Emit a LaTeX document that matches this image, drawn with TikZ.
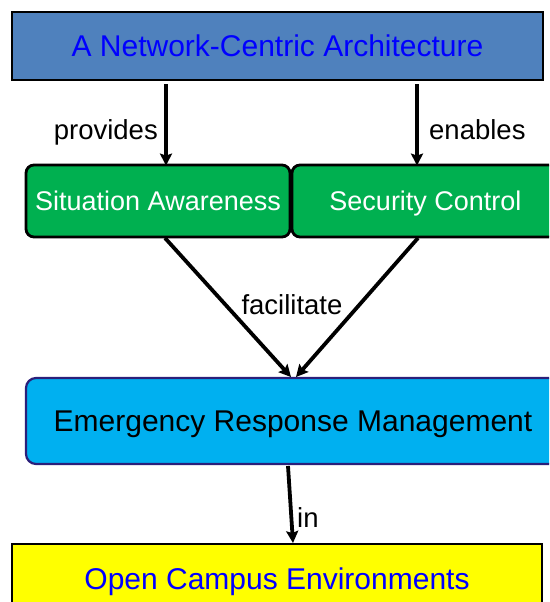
\documentclass[tikz,border=0pt]{standalone}
\usepackage{fontspec}
\setmainfont{Liberation Sans}
\usetikzlibrary{arrows.meta}
\definecolor{topblue}{HTML}{4F81BD}
\definecolor{txtblue}{HTML}{0000FF}
\definecolor{grn}{HTML}{00B050}
\definecolor{cyanbox}{HTML}{00B0F0}
\definecolor{navyedge}{HTML}{2B1F7A}
\definecolor{yel}{HTML}{FFFF00}
\tikzset{
  bigfont/.style={font=\fontsize{30}{34}\selectfont, text height=21.5pt, text depth=0pt},
  plainbox/.style={draw=black, line width=1.5pt, minimum width=#1, inner sep=0pt, bigfont},
  greenbox/.style={draw=black, fill=grn, line width=2.8pt, rounded corners=8pt, text=white,
     minimum height=72pt, minimum width=#1, inner sep=0pt, font=\fontsize{27}{31}\selectfont,
     text height=19.3pt, text depth=0pt},
  link/.style={line width=3.8pt, -{Stealth[length=12pt,width=12pt,inset=2pt]}},
  lbl/.style={font=\fontsize{27.5}{31}\selectfont, inner sep=0pt, text height=19.7pt, text depth=0pt}
}
\begin{document}
\begin{tikzpicture}[x=1pt,y=-1pt]
\useasboundingbox (0,0) rectangle (549,602);
\clip (0,0) rectangle (549,602);
\node[plainbox=531pt, fill=topblue, minimum height=68pt, text=txtblue] (top) at (277.5,46) {A Network-Centric Architecture};
\node[greenbox=264pt] (sa) at (158,201) {Situation Awareness};
\node[greenbox=267pt] (sc) at (425.5,201) {Security Control};
\node[draw=navyedge, fill=cyanbox, line width=2.2pt, rounded corners=10pt, minimum width=534pt, minimum height=86pt, inner sep=0pt, bigfont] (erm) at (293,421) {Emergency Response Management};
\node[plainbox=530pt, fill=yel, minimum height=70pt, text=txtblue] (oce) at (277,579) {Open Campus Environments};
\coordinate (p1) at (166,84);
\coordinate (p2) at (417,84);
\coordinate (d1) at (165,238);
\coordinate (d2) at (418,238);
\coordinate (e1) at (291,377);
\coordinate (e2) at (296,377);
\coordinate (i1) at (288,466);
\coordinate (i2) at (293,543);
\draw[link] (p1) -- ([yshift=-2pt]p1 |- sa.north);
\draw[link] (p2) -- ([yshift=-2pt]p2 |- sc.north);
\draw[link] (d1) -- (e1);
\draw[link] (d2) -- (e2);
\draw[link] (i1) -- (i2);
\node[lbl, anchor=east] (lp) at (158,130) {provides};
\node[lbl, anchor=west] (le) at (429,130) {enables};
\node[lbl] (lf) at (292,305) {facilitate};
\node[lbl, anchor=west] (li) at (297,518) {in};
\end{tikzpicture}
\end{document}
